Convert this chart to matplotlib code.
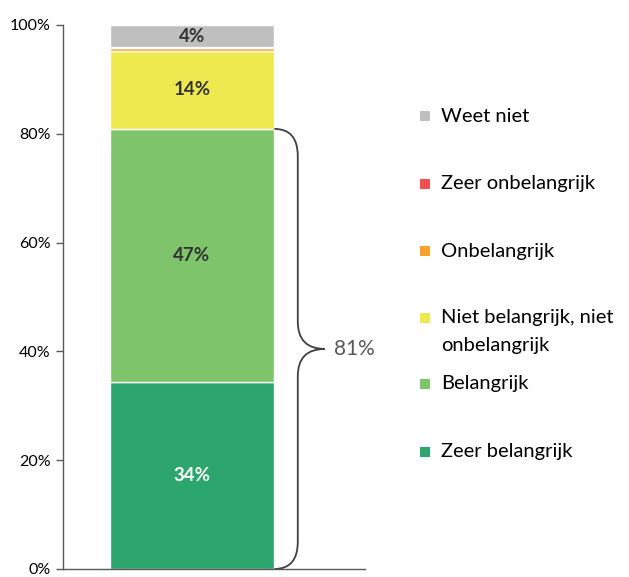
import matplotlib
matplotlib.use("Agg")
import matplotlib.pyplot as plt
from matplotlib.path import Path
from matplotlib.patches import PathPatch, Rectangle

plt.rcParams['font.family'] = ['Lato', 'DejaVu Sans']

# Data (bottom to top)
categories = ["Zeer belangrijk", "Belangrijk", "Niet belangrijk, niet\nonbelangrijk",
              "Onbelangrijk", "Zeer onbelangrijk", "Weet niet"]
values = [34.3, 46.6, 14.3, 0.5, 0.2, 4.1]
labels = ["34%", "47%", "14%", "", "", "4%"]
colors = ["#2CA66C", "#7DC46A", "#EFE950", "#F7A329", "#F0524D", "#BFBFBF"]
label_colors = ["white", "#333333", "#333333", "#333333", "#333333", "#333333"]
brace_text = "81%"
yticks = [0, 20, 40, 60, 80, 100]
ytick_labels = ["0%", "20%", "40%", "60%", "80%", "100%"]

fig = plt.figure(figsize=(6.29, 5.77), dpi=100)
ax = fig.add_axes([0.1, 0.0139, 0.48, 0.9428])

bar_w = 0.543
bottom = 0
for v, c, lab, lc in zip(values, colors, labels, label_colors):
    ax.bar(0, v, width=bar_w, bottom=bottom, color=c, edgecolor="white", linewidth=1.0)
    if lab:
        ax.text(0, bottom + v / 2, lab, ha="center", va="center", fontsize=13.5,
                fontweight="bold", color=lc)
    bottom += v

ax.set_xlim(-0.427, 0.573)
ax.set_ylim(0, 100)
ax.set_yticks(yticks)
ax.set_yticklabels(ytick_labels, fontsize=11.5, color="#000000")
ax.set_xticks([])
ax.tick_params(axis="y", direction="out", length=5, width=1, color="#595959", pad=4)
for s in ["top", "right"]:
    ax.spines[s].set_visible(False)
for s in ["left", "bottom"]:
    ax.spines[s].set_color("#595959")
    ax.spines[s].set_linewidth(1.0)

# Brace spanning the first two categories
y0 = 0
y1 = values[0] + values[1]
ym = (y0 + y1) / 2
x0 = bar_w / 2 + 0.002
xm = 0.351
xt = 0.441
r = 5.0
verts = [(x0, y0), (xm, y0), (xm, y0 + r),
         (xm, ym - r), (xm, ym), (xt, ym),
         (xm, ym), (xm, ym + r),
         (xm, y1 - r), (xm, y1), (x0, y1)]
codes = [Path.MOVETO, Path.CURVE3, Path.CURVE3,
         Path.LINETO, Path.CURVE3, Path.CURVE3,
         Path.CURVE3, Path.CURVE3,
         Path.LINETO, Path.CURVE3, Path.CURVE3]
ax.add_patch(PathPatch(Path(verts, codes), facecolor="none", edgecolor="#404040",
                       linewidth=1.3, clip_on=False))
ax.text(xt + 0.03, ym, brace_text, ha="left", va="center", fontsize=15,
        color="#595959", clip_on=False)

# Legend (manual, top to bottom)
leg_y = [116, 184, 251, 318, 384, 452]
for i, (cat, c) in enumerate(zip(categories[::-1], colors[::-1])):
    yp = 1 - leg_y[i] / 577
    fig.patches.append(Rectangle((420 / 629, yp - 5 / 577), 10 / 629, 10 / 577,
                                 facecolor=c, edgecolor="none", transform=fig.transFigure))
    if "\n" in cat:
        fig.text(441 / 629, yp + 9 / 577, cat, ha="left", va="top",
                 fontsize=14.5, color="#000000", linespacing=1.75)
    else:
        fig.text(441 / 629, yp, cat, ha="left", va="center",
                 fontsize=14.5, color="#000000")

fig.savefig("out.png", dpi=100)
